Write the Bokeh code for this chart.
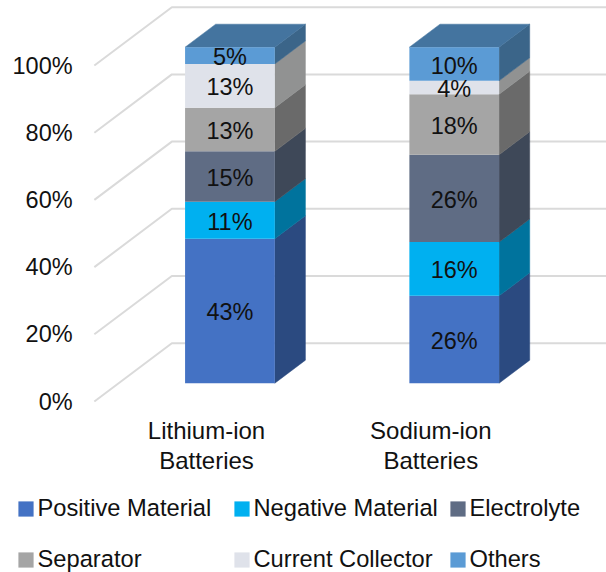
from bokeh.embed import file_html
from bokeh.models import Legend, LegendItem, Range1d
from bokeh.plotting import figure
from bokeh.resources import INLINE
from bokeh.core.properties import value

# Share of cell cost by component, in percent
batteries = ["Lithium-ion\nBatteries", "Sodium-ion\nBatteries"]
components = ["Positive Material", "Negative Material", "Electrolyte",
              "Separator", "Current Collector", "Others"]
lithium = [43, 11, 15, 13, 13, 5]
sodium = [26, 16, 26, 18, 4, 10]
percent_ticks = [0, 20, 40, 60, 80, 100]

front_colors = ["#4472C4", "#00B0F0", "#5F6C84", "#A5A5A5", "#DFE2EA", "#5B9BD5"]
side_colors = ["#2B4A80", "#00739D", "#3E4858", "#6A6A6A", "#919292", "#3B6589"]
top_color = "#44749F"
grid_color = "#DADADA"
font = "Liberation Sans"
ink = "#111111"

# Oblique projection of the floor depth onto the chart axes
SLANT_X = 0.3455
SLANT_Y = 17.35
BAR_FRONT = 0.314
BAR_BACK = 0.709
BAR_SHIFT = -0.004
HALF_WIDTH = 0.2
WALL_LEFT = -0.5
RIGHT_END = 1.7833
TICK_LABEL_X = -0.597
NAME_ROW_Y = -4.75


def project(x, y, depth):
    return x + depth * SLANT_X, y + depth * SLANT_Y


p = figure(width=606, height=572, output_backend="svg", toolbar_location=None,
           x_range=Range1d(-0.9184, RIGHT_END), y_range=Range1d(-50.89, 119.35),
           x_axis_location=None, y_axis_location=None,
           min_border_left=0, min_border_right=0, min_border_top=0,
           min_border_bottom=0, outline_line_color=None)
p.grid.visible = False

# Slanted floor-to-wall gridlines
for tick in percent_ticks:
    bx, by = project(WALL_LEFT, tick, 1)
    fx, fy = project(WALL_LEFT, tick, 0)
    p.line([fx, bx, RIGHT_END], [fy, by, by], line_color=grid_color, line_width=2)

# Percent labels beside the front edge of the floor
p.text([TICK_LABEL_X] * len(percent_ticks), percent_ticks,
       text=[f"{t}%" for t in percent_ticks], text_align="right",
       text_baseline="middle", text_font=value(font), text_font_size="23.5px",
       text_color=ink)

# Battery names under the floor
p.text([0, 1], [NAME_ROW_Y] * 2, text=batteries, text_align="center",
       text_baseline="top", text_font=value(font), text_font_size="24px",
       text_line_height=1.11, text_color=ink)

# Stacked blocks: side faces and top first, then the front faces
series_front = []
for slot, shares in enumerate([lithium, sodium]):
    left = slot + BAR_SHIFT - HALF_WIDTH
    right = slot + BAR_SHIFT + HALF_WIDTH
    base = 0
    for k, share in enumerate(shares):
        top = base + share
        x0, y0 = project(right, base, BAR_FRONT)
        x1, y1 = project(right, base, BAR_BACK)
        x2, y2 = project(right, top, BAR_BACK)
        x3, y3 = project(right, top, BAR_FRONT)
        p.patch([x0, x1, x2, x3], [y0, y1, y2, y3], fill_color=side_colors[k],
                line_color=side_colors[k], line_width=0.5)
        base = top
    a = project(left, base, BAR_FRONT)
    b = project(right, base, BAR_FRONT)
    c = project(right, base, BAR_BACK)
    d = project(left, base, BAR_BACK)
    p.patch([a[0], b[0], c[0], d[0]], [a[1], b[1], c[1], d[1]],
            fill_color=top_color, line_color=top_color, line_width=0.5)

for k, name in enumerate(components):
    lefts, rights, bottoms, tops, mids, labels, centers = [], [], [], [], [], [], []
    for slot, shares in enumerate([lithium, sodium]):
        base = sum(shares[:k])
        xl, yb = project(slot + BAR_SHIFT - HALF_WIDTH, base, BAR_FRONT)
        xr, yt = project(slot + BAR_SHIFT + HALF_WIDTH, base + shares[k], BAR_FRONT)
        lefts.append(xl)
        rights.append(xr)
        bottoms.append(yb)
        tops.append(yt)
        centers.append((xl + xr) / 2)
        mids.append((yb + yt) / 2)
        labels.append(f"{shares[k]}%")
    front = p.quad(left=lefts, right=rights, bottom=bottoms, top=tops,
                   fill_color=front_colors[k], line_color=None)
    series_front.append((name, front, centers, mids, labels))

for name, front, centers, mids, labels in series_front:
    p.text(centers, mids, text=labels, text_align="center", text_baseline="middle",
           y_offset=1.5, text_font=value(font), text_font_size="23.5px", text_color=ink)


def legend_row(entries, bottom):
    return Legend(
        items=[LegendItem(label=name, renderers=[front]) for name, front, *_ in entries],
        ncols=3, location=(15.5, bottom), orientation="horizontal",
        border_line_color=None, background_fill_alpha=0,
        glyph_width=19, glyph_height=19, label_standoff=3, spacing=0, margin=0, padding=0,
        label_width=194, label_height=19,
        label_text_font=font, label_text_font_size="23.7px", label_text_color=ink,
    )


p.add_layout(legend_row(series_front[:3], 50), "center")
p.add_layout(legend_row(series_front[3:], -1), "center")

open("out.html", "w").write(file_html(p, INLINE))
